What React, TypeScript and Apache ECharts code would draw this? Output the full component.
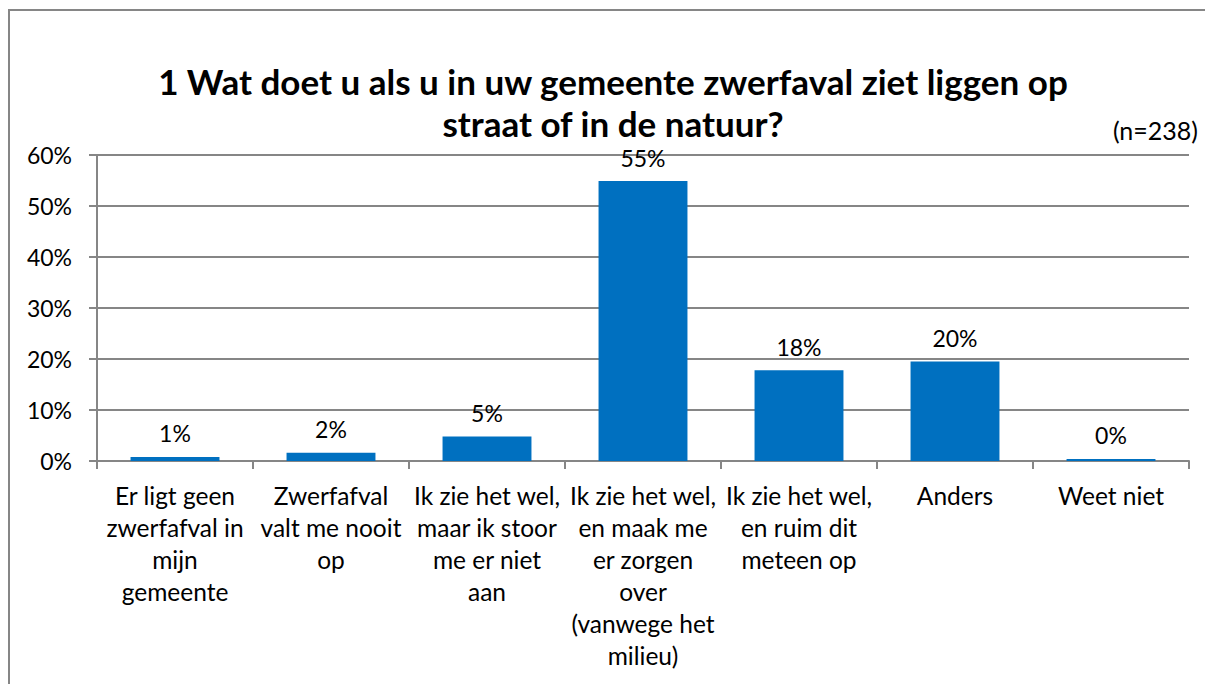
import React, { useEffect, useRef } from "react";
import * as echarts from "echarts";

const titleLines = [
  "1 Wat doet u als u in uw gemeente zwerfaval ziet liggen op",
  "straat of in de natuur?",
];
const sampleNote = "(n=238)";
const categories = [
  "Er ligt geen\nzwerfafval in\nmijn\ngemeente",
  "Zwerfafval\nvalt me nooit\nop",
  "Ik zie het wel,\nmaar ik stoor\nme er niet\naan",
  "Ik zie het wel,\nen maak me\ner zorgen\nover\n(vanwege het\nmilieu)",
  "Ik zie het wel,\nen ruim dit\nmeteen op",
  "Anders",
  "Weet niet",
];
const values = [0.8, 1.6, 4.8, 54.9, 17.8, 19.5, 0.4];
const yTicks = { min: 0, max: 60, interval: 10 };

const FONT = "Lato";
const GRAY = "#868686";
const FS = 23;

export default function App() {
  const ref = useRef<HTMLDivElement>(null);
  useEffect(() => {
    document.body.style.margin = "0";
    document.documentElement.style.overflow = "hidden";
    const chart = echarts.init(ref.current!, null, { renderer: "svg" });
    chart.setOption({
      animation: false,
      backgroundColor: "#ffffff",
      textStyle: { fontFamily: FONT },
      grid: { left: 97, right: 16, top: 155, bottom: 223, containLabel: false },
      graphic: [
        {
          type: "line",
          shape: { x1: 9, y1: 10, x2: 9, y2: 684 },
          style: { stroke: GRAY, lineWidth: 2 },
          silent: true,
        },
        {
          type: "line",
          shape: { x1: 8, y1: 10, x2: 1205, y2: 10 },
          style: { stroke: GRAY, lineWidth: 2 },
          silent: true,
        },
        ...titleLines.map((t, i) => ({
          type: "text",
          x: 613,
          y: 81 + i * 42,
          style: {
            text: t,
            fontFamily: FONT,
            fontSize: 35,
            fontWeight: "bold",
            textAlign: "center",
            textVerticalAlign: "middle",
            fill: "#000",
          },
        })),
        {
          type: "text",
          x: 1198,
          y: 130,
          style: {
            text: sampleNote,
            fontFamily: FONT,
            fontSize: 25,
            textAlign: "right",
            textVerticalAlign: "middle",
            fill: "#000",
          },
        },
      ],
      xAxis: {
        type: "category",
        data: categories,
        axisLine: { show: true, lineStyle: { color: GRAY, width: 2 } },
        axisTick: { show: true, length: 8, alignWithLabel: false, lineStyle: { color: GRAY, width: 2 } },
        axisLabel: {
          interval: 0,
          margin: 18,
          color: "#000",
          fontFamily: FONT,
          fontSize: 24.5,
          lineHeight: 32,
        },
      },
      yAxis: {
        type: "value",
        min: yTicks.min,
        max: yTicks.max,
        interval: yTicks.interval,
        axisLine: { show: true, lineStyle: { color: GRAY, width: 2 } },
        axisTick: { show: true, length: 8, lineStyle: { color: GRAY, width: 2 } },
        splitLine: { show: true, lineStyle: { color: GRAY, width: 2 } },
        axisLabel: {
          formatter: "{value}%",
          margin: 25,
          color: "#000",
          fontFamily: FONT,
          fontSize: FS,
        },
      },
      series: [
        {
          type: "bar",
          data: values,
          barWidth: "57%",
          itemStyle: { color: "#0070C0" },
          label: {
            show: true,
            position: "top",
            distance: 12,
            color: "#000",
            fontFamily: FONT,
            fontSize: FS,
            formatter: (p: any) => Math.round(p.value) + "%",
          },
        },
      ],
    });
    return () => chart.dispose();
  }, []);
  return (
    <div
      ref={ref}
      style={{ position: "absolute", left: 0, top: 0, width: 1205, height: 684 }}
    />
  );
}
